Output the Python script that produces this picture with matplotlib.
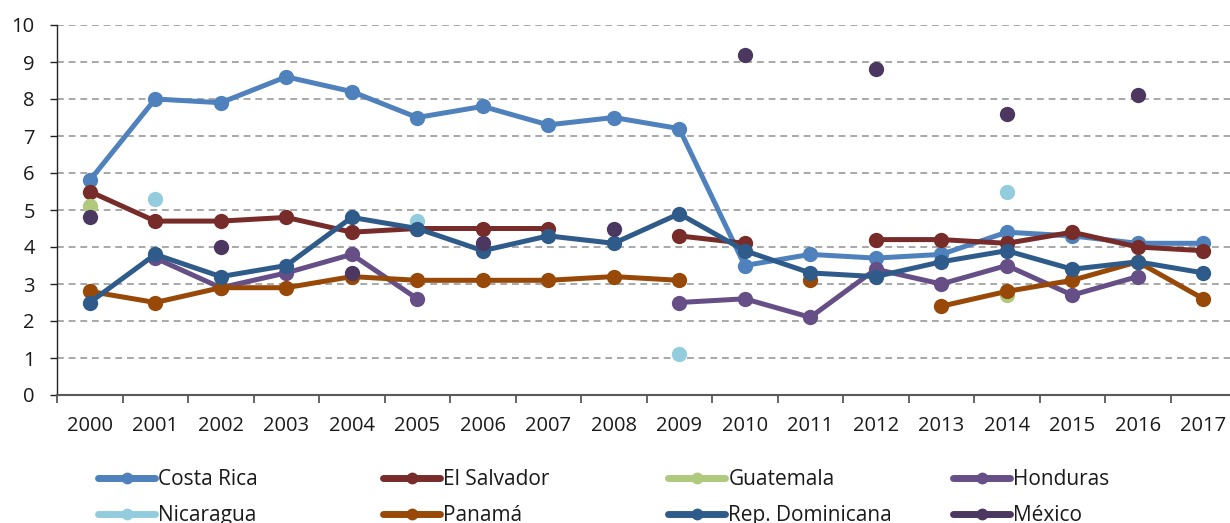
import numpy as np
import matplotlib
matplotlib.use("Agg")
import matplotlib.pyplot as plt
from matplotlib.lines import Line2D

nan = np.nan
years = [str(y) for y in range(2000, 2018)]

costa_rica = [5.8, 8.0, 7.9, 8.6, 8.2, 7.5, 7.8, 7.3, 7.5, 7.2, 3.5, 3.8, 3.7, 3.8, 4.4, 4.3, 4.1, 4.1]
el_salvador = [5.5, 4.7, 4.7, 4.8, 4.4, 4.5, 4.5, 4.5, nan, 4.3, 4.1, nan, 4.2, 4.2, 4.1, 4.4, 4.0, 3.9]
guatemala = [5.1, nan, nan, nan, nan, nan, nan, nan, nan, nan, nan, nan, nan, nan, 2.7, nan, nan, nan]
honduras = [nan, 3.7, 2.9, 3.3, 3.8, 2.6, nan, nan, nan, 2.5, 2.6, 2.1, 3.4, 3.0, 3.5, 2.7, 3.2, nan]
nicaragua = [nan, 5.3, nan, nan, nan, 4.7, nan, nan, nan, 1.1, nan, nan, nan, nan, 5.5, nan, nan, nan]
panama = [2.8, 2.5, 2.9, 2.9, 3.2, 3.1, 3.1, 3.1, 3.2, 3.1, nan, 3.1, nan, 2.4, 2.8, 3.1, 3.6, 2.6]
rep_dom = [2.5, 3.8, 3.2, 3.5, 4.8, 4.5, 3.9, 4.3, 4.1, 4.9, 3.9, 3.3, 3.2, 3.6, 3.9, 3.4, 3.6, 3.3]
mexico = [4.8, nan, 4.0, nan, 3.3, nan, 4.1, nan, 4.5, nan, 9.2, nan, 8.8, nan, 7.6, nan, 8.1, nan]

series = [
    ("Costa Rica", costa_rica, "#4F81BD"),
    ("El Salvador", el_salvador, "#772C2A"),
    ("Guatemala", guatemala, "#AFC97D"),
    ("Honduras", honduras, "#654F86"),
    ("Nicaragua", nicaragua, "#93CDDD"),
    ("Panamá", panama, "#984807"),
    ("Rep. Dominicana", rep_dom, "#2F5B8B"),
    ("México", mexico, "#4B3760"),
]

plt.rcParams['font.family'] = ['Open Sans', 'DejaVu Sans']
FS = 14.5
LFS = 15

fig = plt.figure(figsize=(12.3, 5.23), dpi=100)
W, H = 1230, 523
ax = fig.add_axes([57 / W, (H - 395) / H, (1236 - 57) / W, (395 - 25) / H])

x = np.arange(len(years))
handles = []
for i, (name, vals, col) in enumerate(series):
    ax.plot(x, vals, color=col, lw=3.6, marker='o', markersize=11,
            markeredgewidth=0, zorder=3 + i, clip_on=False, label=name,
            solid_capstyle='round')
    handles.append(Line2D([], [], color=col, lw=5, marker='o', markersize=8.5,
                          markeredgewidth=0, solid_capstyle='round'))

ax.set_xlim(-0.5, len(years) - 0.5)
ax.set_ylim(0, 10)
ax.set_yticks(range(0, 11))
ax.yaxis.grid(True, linestyle=(0, (3.5, 2.5)), color='#A8A8A8', lw=1.4)
ax.set_axisbelow(True)

ax.set_xticks(np.arange(-0.5, len(years), 1.0))
ax.set_xticklabels([])
ax.set_xticks(x, minor=True)
ax.set_xticklabels(years, minor=True, fontsize=FS, color='#1A1A1A')
ax.tick_params(axis='x', which='major', length=6, width=1.3, color='#595959', direction='out')
ax.tick_params(axis='x', which='minor', length=0, pad=15)
ax.tick_params(axis='y', length=5, width=1.0, color='#222222', labelsize=FS,
               labelcolor='#1A1A1A', pad=11)

for s in ['top', 'right']:
    ax.spines[s].set_visible(False)
ax.spines['left'].set_color('#222222')
ax.spines['left'].set_linewidth(1.0)
ax.spines['bottom'].set_color('#595959')
ax.spines['bottom'].set_linewidth(1.5)

names = [s[0] for s in series]
col_x = [98, 383, 668, 953]
for c in range(4):
    hs = [handles[c], handles[c + 4]]
    ls = [names[c], names[c + 4]]
    fig.legend(hs, ls, loc='upper left', bbox_to_anchor=(col_x[c] / W, (H - 469) / H),
               frameon=False, fontsize=LFS, handlelength=2.75, handletextpad=0.15,
               labelspacing=0.72, borderaxespad=0, borderpad=0, labelcolor='#1A1A1A')

fig.savefig("out.png", dpi=100)
